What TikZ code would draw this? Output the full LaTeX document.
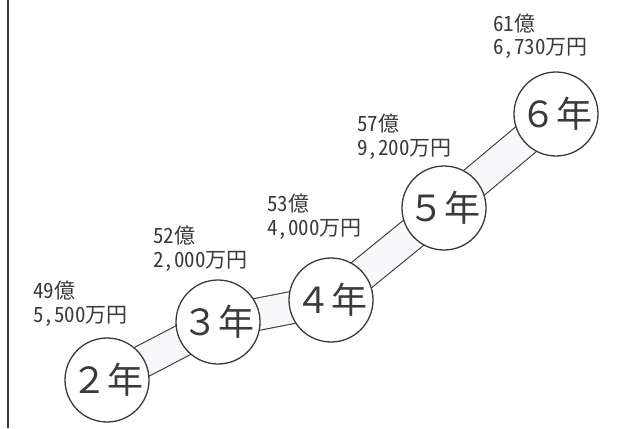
\documentclass[tikz,border=0pt]{standalone}
\usepackage{fontspec}
\setmainfont{Noto Sans CJK JP}
\newfontfamily\amountfont[RawFeature=+hwid]{Noto Sans CJK JP}
\usetikzlibrary{backgrounds}
\definecolor{ink}{HTML}{3A3A3A}
\definecolor{bandfill}{HTML}{F8F8FB}
\tikzset{
  yearnode/.style={circle, draw=ink, line width=1.3pt, fill=white, minimum size=84pt, inner sep=0pt, font=\fontsize{36}{36}\selectfont, text=ink},
  amount/.style={anchor=base west, align=left, inner sep=0pt, text=ink, font=\amountfont\fontsize{21}{23.5}\selectfont},
  band/.style={draw=ink, line width=1.1pt, double=bandfill, double distance=31pt},
}
\begin{document}
\begin{tikzpicture}[x=1pt,y=-1pt]
\useasboundingbox (0,0) rectangle (620,428);
\coordinate (ltop) at (8,0);
\coordinate (lbot) at (8,428);
\draw[ink, line width=1.3pt] (ltop) -- (lbot);
\node[yearnode] (y2) at (107,380) {２年};
\node[yearnode] (y3) at (218,322) {３年};
\node[yearnode] (y4) at (331,300) {４年};
\node[yearnode] (y5) at (444,208) {５年};
\node[yearnode] (y6) at (556,114) {６年};
\begin{scope}[on background layer]
\draw[band] (y2.center) -- (y3.center);
\draw[band] (y3.center) -- (y4.center);
\draw[band] (y4.center) -- (y5.center);
\draw[band] (y5.center) -- (y6.center);
\end{scope}
\node[amount] (a2) at (33,322) {49億\\5,500万円};
\node[amount] (a3) at (153,267) {52億\\2,000万円};
\node[amount] (a4) at (267,235) {53億\\4,000万円};
\node[amount] (a5) at (357,155) {57億\\9,200万円};
\node[amount] (a6) at (493,55) {61億\\6,730万円};
\end{tikzpicture}
\end{document}
